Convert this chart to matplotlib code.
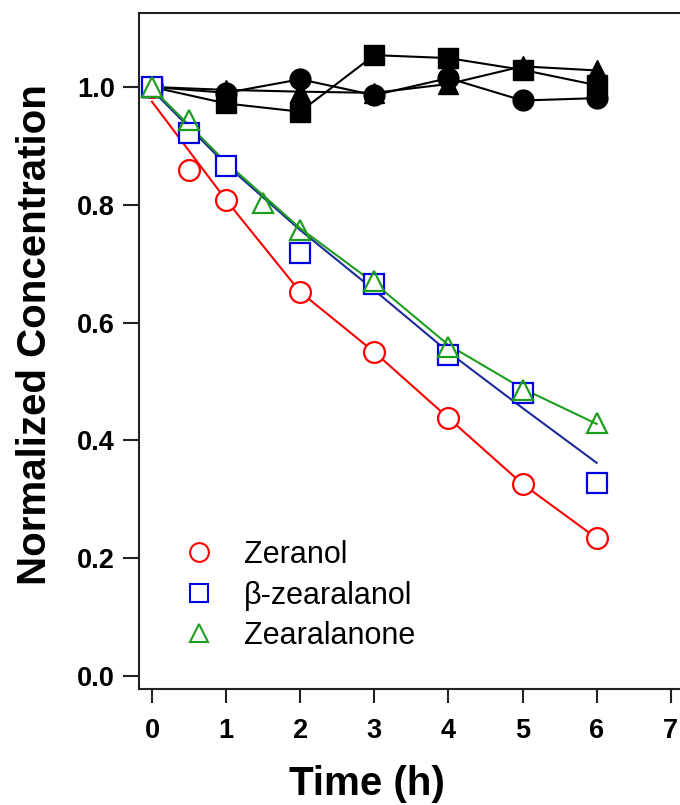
import matplotlib
matplotlib.use("Agg")
import matplotlib.pyplot as plt
from matplotlib.lines import Line2D

plt.rcParams['font.family'] = ['Liberation Sans', 'DejaVu Sans']

# control (dark) samples
t_ctrl = [0, 1, 2, 3, 4, 5, 6]
ctrl_circle = [1.0, 0.99, 1.013, 0.986, 1.015, 0.977, 0.981]
ctrl_square = [1.0, 0.972, 0.958, 1.054, 1.049, 1.029, 1.003]
ctrl_triangle = [1.0, 0.995, 0.992, 0.99, 1.005, 1.035, 1.028]

# irradiated samples
t_zer = [0, 0.5, 1, 2, 3, 4, 5, 6]
zeranol = [1.0, 0.859, 0.808, 0.652, 0.55, 0.438, 0.326, 0.234]
t_bzal = [0, 0.5, 1, 2, 3, 4, 5, 6]
bzal = [1.0, 0.922, 0.866, 0.718, 0.666, 0.545, 0.48, 0.328]
t_zan = [0, 0.5, 1.5, 2, 3, 4, 5, 6]
zan = [1.0, 0.944, 0.803, 0.757, 0.67, 0.559, 0.486, 0.43]

# fitted curves
t_fit = [0, 1, 2, 3, 4, 5, 6]
zer_fit = [0.975, 0.808, 0.652, 0.55, 0.438, 0.326, 0.234]
bzal_fit = [0.995, 0.868, 0.757, 0.655, 0.55, 0.455, 0.362]
zan_fit = [0.998, 0.872, 0.76, 0.667, 0.562, 0.488, 0.428]

labels = ['Zeranol', '\u03b2-zearalanol', 'Zearalanone']

red = '#ff0000'
blue = '#0000e0'
blue_line = '#1c2a9c'
green = '#1e9e1e'

fig = plt.figure(figsize=(6.8, 8.05), dpi=100)
ax = fig.add_axes([0.2044, 0.1441, 0.8147, 0.8398])

ms = 15
for vals, mk in [(ctrl_circle, 'o'), (ctrl_square, 's'), (ctrl_triangle, '^')]:
    ax.plot(t_ctrl, vals, color='black', lw=1.5, marker=mk, ms=ms,
            mfc='black', mec='black', zorder=2)

ax.plot(t_fit, zer_fit, color=red, lw=1.5, zorder=3)
ax.plot(t_fit, bzal_fit, color=blue_line, lw=1.5, zorder=3)
ax.plot(t_fit, zan_fit, color=green, lw=1.5, zorder=3)

ax.plot(t_zer, zeranol, ls='none', marker='o', ms=ms, mfc='white',
        mec=red, mew=1.6, zorder=4)
ax.plot(t_bzal, bzal, ls='none', marker='s', ms=ms - 0.5, mfc='white',
        mec=blue, mew=1.6, zorder=5)
ax.plot(t_zan, zan, ls='none', marker='^', ms=ms, mfc='none',
        mec=green, mew=1.6, zorder=6)

ax.set_xlim(-0.175, 7.3)
ax.set_ylim(-0.022, 1.1256)
ax.set_xticks(range(0, 8))
ax.set_yticks([0.0, 0.2, 0.4, 0.6, 0.8, 1.0])
ax.set_yticklabels(['0.0', '0.2', '0.4', '0.6', '0.8', '1.0'])

for s in ax.spines.values():
    s.set_linewidth(1.5)
    s.set_color('#222222')
ax.tick_params(axis='both', direction='out', width=1.5, color='#222222',
               labelsize=19.5)
ax.tick_params(axis='y', length=11.5, pad=6)
ax.tick_params(axis='x', length=10, pad=11)
for lab in ax.get_xticklabels() + ax.get_yticklabels():
    lab.set_fontweight('bold')

fig.text(0.052, 0.585, 'Normalized Concentration', rotation=90,
         ha='center', va='center', fontsize=29, fontweight='bold')
fig.text(0.54, 0.026, 'Time (h)', ha='center', va='center',
         fontsize=29, fontweight='bold')

handles = [
    Line2D([], [], ls='none', marker='o', ms=13.5, mfc='white', mec=red, mew=1.5),
    Line2D([], [], ls='none', marker='s', ms=13, mfc='white', mec=blue, mew=1.5),
    Line2D([], [], ls='none', marker='^', ms=13.5, mfc='white', mec=green, mew=1.5),
]
fig.legend(handles, labels, loc='upper left', bbox_to_anchor=(0.2706, 0.329),
           frameon=False, fontsize=22, handlelength=1.0, handletextpad=0.95,
           labelspacing=0.34, borderpad=0, borderaxespad=0)

fig.savefig('out.png', dpi=100)
